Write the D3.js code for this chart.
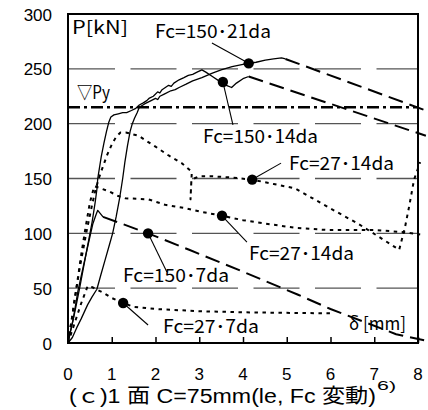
<!DOCTYPE html>
<html><head><meta charset="utf-8">
<script src="https://cdn.jsdelivr.net/npm/d3@7"></script>
<style>
body{margin:0;background:#fff}
svg{display:block}
text{font-family:"Noto Sans CJK JP","Noto Sans",sans-serif;fill:#000}
text.tk{font-family:"Liberation Sans","Noto Sans",sans-serif}
text.ttl{font-family:"Liberation Sans","Noto Sans CJK JP",sans-serif}
</style>
</head><body>
<svg id="chart" width="428" height="410"></svg>
<script>
// ---------------- data ----------------
const xTicks = [0,1,2,3,4,5,6,7,8];
const yTicks = [0,50,100,150,200,250,300];
const gridValues = [50,100,150,200,250];
const pyValue = 215;

// Fc=150・14da (solid then dashed)
const fc150_14da_solid = [[0,0],[0.05,10],[0.1,18],[0.18,33],[0.27,51],[0.36,70],[0.46,91],[0.55,110],[0.62,128],[0.66,140],[0.68,150],[0.72,160],[0.76,170],[0.82,182],[0.88,193],[0.93,201],[0.98,206],[1.05,208],[1.15,209],[1.25,210],[1.34,210],[1.45,212],[1.55,214],[1.63,217],[1.72,219],[1.8,221],[1.85,223],[1.95,225],[2.05,229],[2.1,228],[2.15,231],[2.3,235],[2.36,234],[2.42,237],[2.54,240],[2.65,242],[2.75,244],[2.85,245],[2.95,247],[3.06,249],[3.15,247],[3.3,243],[3.45,239],[3.54,238],[3.62,235],[3.74,233],[3.85,237],[4.0,241],[4.13,243]];
const fc150_14da_dash = [[4.13,243],[5.03,231],[8.18,189]];

// Fc=150・21da (solid then dashed)
const fc150_21da_solid = [[0,0],[0.1,5],[0.2,14],[0.3,22],[0.45,35],[0.55,42],[0.66,49],[0.75,62],[0.85,76],[0.95,90],[1.02,100],[1.1,115],[1.18,132],[1.25,150],[1.3,165],[1.36,180],[1.42,193],[1.47,200],[1.52,205],[1.58,210],[1.63,215],[1.75,218],[1.9,221],[2.0,223],[2.05,222],[2.1,225],[2.2,227],[2.35,230],[2.45,231],[2.54,233],[2.7,236],[2.85,239],[3.06,242],[3.3,246],[3.5,249],[3.75,252],[4.0,254],[4.13,255],[4.3,256],[4.51,258],[4.7,259],[4.88,260],[4.97,259]];
const fc150_21da_dash = [[4.97,259],[8.18,212]];

// Fc=150・7da (solid rise then dashed)
const fc150_7da_solid = [[0,0],[0.12,22],[0.23,48],[0.34,68],[0.45,88],[0.57,109],[0.64,117],[0.68,121],[0.74,118],[0.8,115]];
const fc150_7da_dash = [[0.8,115],[1.83,100],[2.77,85],[4.0,65],[5.26,44],[6.0,31],[7.5,8],[8.14,2.5]];

// Fc=27・14da (upper, dotted)
const fc27_14da_a = [[0,0],[0.08,20],[0.16,42],[0.27,69],[0.43,103],[0.54,124],[0.63,140],[0.72,152],[0.8,161],[0.9,172],[1.0,181],[1.1,188],[1.2,192],[1.32,192],[1.61,189],[2.0,179],[2.3,171],[2.6,164],[2.83,156],[2.8,131],[2.82,149],[3.0,152],[3.3,152],[3.7,151],[4.21,149],[4.7,145],[5.19,141],[5.5,134],[5.94,124],[6.62,109],[7.1,97],[7.57,85],[7.7,105],[7.8,125],[7.91,149],[8.05,165]];

// Fc=27・14da (lower, dotted)
const fc27_14da_b = [[0,0],[0.1,25],[0.2,52],[0.3,80],[0.4,105],[0.5,128],[0.6,143],[0.75,141],[0.95,138],[1.15,134],[1.31,132],[1.84,131],[2.22,126],[2.68,123],[3.0,120],[3.52,116],[4.0,112],[4.5,109],[5.2,105],[5.94,103],[7.0,103],[7.7,101],[8.05,99]];

// Fc=27・7da (dotted)
const fc27_7da = [[0,0],[0.15,18],[0.3,36],[0.45,52],[0.55,51],[0.8,46],[1.0,41],[1.26,36.5],[1.5,33],[2.0,31],[3.0,29],[4.0,28],[5.0,27.5],[6.05,27]];

// annotation labels: text, dot (δ,P), leader end (δ,P)
const labelTexts = ["Fc=150･21da","Fc=150･14da","Fc=27･14da","Fc=27･14da","Fc=150･7da","Fc=27･7da"];
const labelDots  = [[4.13,255],[3.54,238],[4.21,149],[3.52,116],[1.83,100],[1.26,36.5]];
const labelEnds  = [[3.29,273.5],[3.77,199],[4.87,164],[4.09,92],[2.26,64.7],[1.83,16.4]];

const yLabel = "P[kN]";
const xLabel = "δ [mm]";
const pyLabel = "▽Py";
const title = "(ｃ)1 面 C=75mm(le, Fc 変動)";
const titleSup = "6)";

// ---------------- drawing ----------------
const svg = d3.select("#chart");
svg.append("rect").attr("width",428).attr("height",410).attr("fill","#fff");

const x = d3.scaleLinear().domain([0,8]).range([68,418]);
const y = d3.scaleLinear().domain([0,300]).range([343,14]);
const line = d3.line().x(d=>x(d[0])).y(d=>y(d[1]));

// gridlines
svg.append("g").selectAll("line").data(gridValues).join("line")
  .attr("x1",69).attr("x2",x(8)).attr("y1",d=>y(d)).attr("y2",d=>y(d))
  .attr("stroke","#555").attr("stroke-width",1.3).attr("stroke-dasharray","46,15.5");

// Py line
svg.append("line").attr("x1",x(0)).attr("x2",x(8)).attr("y1",y(pyValue)).attr("y2",y(pyValue))
  .attr("stroke","#000").attr("stroke-width",2.6).attr("stroke-dasharray","12,4,3,4");

function draw(data, style){
  const p = svg.append("path").datum(data).attr("d",line).attr("fill","none").attr("stroke","#000")
    .attr("stroke-linejoin","round");
  if(style==="solid") p.attr("stroke-width",1.3);
  if(style==="dash") p.attr("stroke-width",2).attr("stroke-dasharray","15,7");
  if(style==="dot") p.attr("stroke-width",2).attr("stroke-dasharray","3.5,4.5");
}
draw(fc27_7da,"dot");
draw(fc27_14da_b,"dot");
draw(fc27_14da_a,"dot");
draw(fc150_7da_solid,"solid");
draw(fc150_7da_dash,"dash");
draw(fc150_14da_solid,"solid");
draw(fc150_14da_dash,"dash");
draw(fc150_21da_solid,"solid");
draw(fc150_21da_dash,"dash");

// frame
svg.append("rect").attr("x",x(0)).attr("y",y(300)).attr("width",x(8)-x(0)).attr("height",y(0)-y(300))
  .attr("fill","none").attr("stroke","#000").attr("stroke-width",2);

// x ticks (inward)
const xAxis = d3.axisBottom(x).tickValues(xTicks).tickSizeInner(-6).tickSizeOuter(0).tickFormat("");
const gx = svg.append("g").attr("transform",`translate(0,${y(0)})`).call(xAxis);
gx.select(".domain").remove();
gx.selectAll(".tick line").attr("stroke","#000").attr("stroke-width",1.5);

// tick labels
svg.append("g").selectAll("text").data(xTicks).join("text").attr("class","tk")
  .attr("x",d=>x(d)).attr("y",380).attr("text-anchor","middle").attr("font-size",17).text(d=>d);
svg.append("g").selectAll("text").data(yTicks).join("text").attr("class","tk")
  .attr("x",52).attr("y",d=>y(d)+6.5).attr("text-anchor","end").attr("font-size",17).text(d=>d);

// leaders & dots
const ann = svg.append("g");
labelTexts.forEach((t,i)=>{
  ann.append("line").attr("x1",x(labelDots[i][0])).attr("y1",y(labelDots[i][1]))
    .attr("x2",x(labelEnds[i][0])).attr("y2",y(labelEnds[i][1])).attr("stroke","#000").attr("stroke-width",1.1);
  ann.append("circle").attr("cx",x(labelDots[i][0])).attr("cy",y(labelDots[i][1])).attr("r",5.2).attr("fill","#000");
});

// label placement (pixels)
const labelPos = [[155,38,116],[203,143,115],[289,170,105],[249,260,105],[123,282,106],[163,333,96]];
labelTexts.forEach((t,i)=>{
  svg.append("text").attr("x",labelPos[i][0]).attr("y",labelPos[i][1]).attr("font-size",18)
    .attr("textLength",labelPos[i][2]).attr("lengthAdjust","spacingAndGlyphs").text(t);
});

svg.append("text").attr("x",72).attr("y",34).attr("font-size",18).attr("textLength",56)
  .attr("lengthAdjust","spacingAndGlyphs").text(yLabel);
svg.append("text").attr("x",77).attr("y",99).attr("font-size",18).attr("textLength",33)
  .attr("lengthAdjust","spacingAndGlyphs").text(pyLabel);
svg.append("text").attr("x",349).attr("y",330).attr("font-size",18).attr("textLength",57)
  .attr("lengthAdjust","spacingAndGlyphs").text(xLabel);
svg.append("text").attr("class","ttl").attr("x",69).attr("y",403).attr("font-size",20).attr("textLength",307)
  .attr("lengthAdjust","spacingAndGlyphs").text(title);
svg.append("text").attr("class","ttl").attr("x",377).attr("y",390).attr("font-size",13).attr("textLength",19)
  .attr("lengthAdjust","spacingAndGlyphs").text(titleSup);
</script>
</body></html>
